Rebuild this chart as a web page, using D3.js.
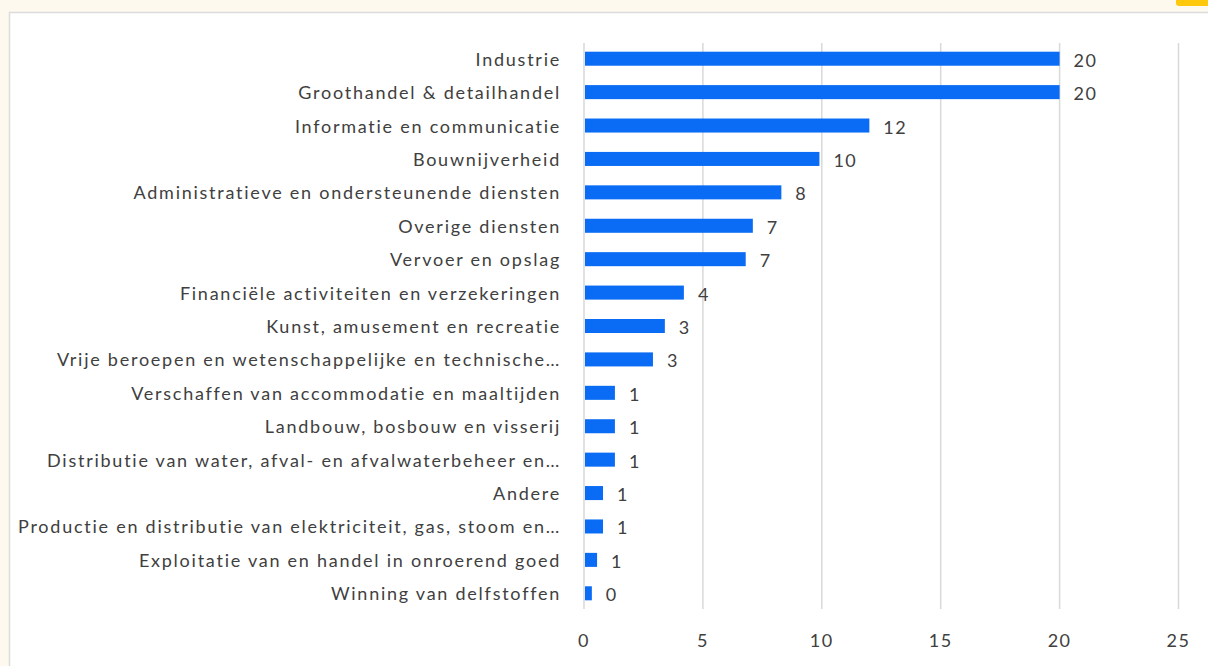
<!DOCTYPE html>
<html>
<head>
<meta charset="utf-8">
<script src="https://cdn.jsdelivr.net/npm/d3@7"></script>
<style>
  html, body { margin: 0; padding: 0; background: #fdf9ef; }
  svg { display: block; }
  text { font-family: Lato, "Open Sans", sans-serif; fill: #404040; font-size: 18px; letter-spacing: 1.5px; }
  text.cat { letter-spacing: 1.75px; }
</style>
</head>
<body>
<svg id="chart" width="1208" height="666"></svg>
<script>
// Sectors, share of respondents (%)
const categories = [
  "Industrie",
  "Groothandel & detailhandel",
  "Informatie en communicatie",
  "Bouwnijverheid",
  "Administratieve en ondersteunende diensten",
  "Overige diensten",
  "Vervoer en opslag",
  "Financiële activiteiten en verzekeringen",
  "Kunst, amusement en recreatie",
  "Vrije beroepen en wetenschappelijke en technische…",
  "Verschaffen van accommodatie en maaltijden",
  "Landbouw, bosbouw en visserij",
  "Distributie van water, afval- en afvalwaterbeheer en…",
  "Andere",
  "Productie en distributie van elektriciteit, gas, stoom en…",
  "Exploitatie van en handel in onroerend goed",
  "Winning van delfstoffen"
];
const values = [20, 20, 12, 9.9, 8.3, 7.1, 6.8, 4.2, 3.4, 2.9, 1.3, 1.3, 1.3, 0.8, 0.8, 0.55, 0.33];
const xTicks = [0, 5, 10, 15, 20, 25];

const svg = d3.select("#chart");

// card panel
svg.append("rect")
  .attr("x", 9.5).attr("y", 12.5)
  .attr("width", 1220).attr("height", 700)
  .attr("fill", "#ffffff")
  .attr("stroke", "#dcdcdc").attr("stroke-width", 1.5);

// corner badge
svg.append("rect")
  .attr("x", 1176).attr("y", -6)
  .attr("width", 40).attr("height", 12).attr("rx", 3)
  .attr("fill", "#ffc80a");

const x = d3.scaleLinear().domain([0, 25]).range([584, 1178.5]);
const y = d3.scaleBand().domain(categories).range([42, 610])
  .paddingInner(0.58).paddingOuter(0.29);

// vertical gridlines
svg.append("g").selectAll("line").data(xTicks).join("line")
  .attr("x1", d => x(d)).attr("x2", d => x(d))
  .attr("y1", 43).attr("y2", 609)
  .attr("stroke", "#d9d9d9").attr("stroke-width", 1.5);

// x axis tick labels
svg.append("g").selectAll("text").data(xTicks).join("text")
  .attr("x", d => x(d)).attr("y", 640)
  .attr("text-anchor", "middle").attr("dominant-baseline", "central")
  .text(d => d);

// bars
svg.append("g").selectAll("rect").data(values).join("rect")
  .attr("x", x(0) + 1)
  .attr("y", (d, i) => y(categories[i]))
  .attr("width", d => x(d) - x(0) - 1)
  .attr("height", y.bandwidth())
  .attr("fill", "#0a6cf4");

// value labels
svg.append("g").selectAll("text").data(values).join("text")
  .attr("x", d => x(d) + 14)
  .attr("y", (d, i) => y(categories[i]) + y.bandwidth() / 2 + 1)
  .attr("dominant-baseline", "central")
  .text(d => Math.round(d));

// category labels
svg.append("g").selectAll("text").data(categories).join("text")
  .attr("class", "cat")
  .attr("x", 561)
  .attr("y", d => y(d) + y.bandwidth() / 2)
  .attr("text-anchor", "end").attr("dominant-baseline", "central")
  .text(d => d);
</script>
</body>
</html>
